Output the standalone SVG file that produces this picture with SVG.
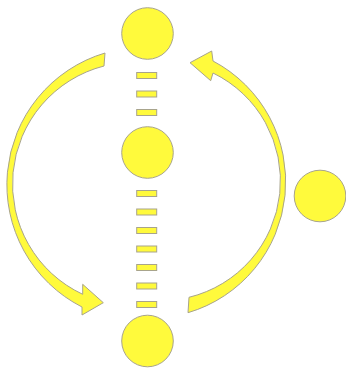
<svg xmlns="http://www.w3.org/2000/svg" width="346" height="368" viewBox="0 0 346 368">
  <style>
    .s { fill: #FFFA3C; stroke: #A8A48C; stroke-width: 1; }
  </style>
  <rect width="346" height="368" fill="#FFFFFF"/>
  <g id="connectors">
    <path class="s" d="M 105,53 A 137.3 137.3 0 0 0 82,307 L 82,315 L 103.3,302.7 L 82.7,284.3 L 82.7,294.3 A 121.8 121.8 0 0 1 104,66 Z"/>
    <path class="s" d="M 190,62.7 L 211.7,51 L 213,61 A 136.6 136.6 0 0 1 188,312.7 L 189,297.3 A 119.9 119.9 0 0 0 213,73 L 210.7,80.7 Z"/>
    <g id="dashes">
      <rect class="s" x="136.7" y="72.5" width="20" height="6"/>
      <rect class="s" x="136.7" y="91" width="20" height="6"/>
      <rect class="s" x="136.7" y="109.5" width="20" height="6"/>
      <rect class="s" x="136.7" y="190.5" width="20" height="6"/>
      <rect class="s" x="136.7" y="209" width="20" height="6"/>
      <rect class="s" x="136.7" y="227.5" width="20" height="6"/>
      <rect class="s" x="136.7" y="246" width="20" height="6"/>
      <rect class="s" x="136.7" y="264.5" width="20" height="6"/>
      <rect class="s" x="136.7" y="283" width="20" height="6"/>
      <rect class="s" x="136.7" y="301.5" width="20" height="6"/>
    </g>
  </g>
  <g id="node-top"><circle class="s" cx="147.5" cy="33.5" r="25.8"/></g>
  <g id="node-middle"><circle class="s" cx="147.5" cy="152.5" r="25.8"/></g>
  <g id="node-bottom"><circle class="s" cx="147.5" cy="341" r="25.8"/></g>
  <g id="node-right"><circle class="s" cx="320" cy="196" r="25.8"/></g>
</svg>
